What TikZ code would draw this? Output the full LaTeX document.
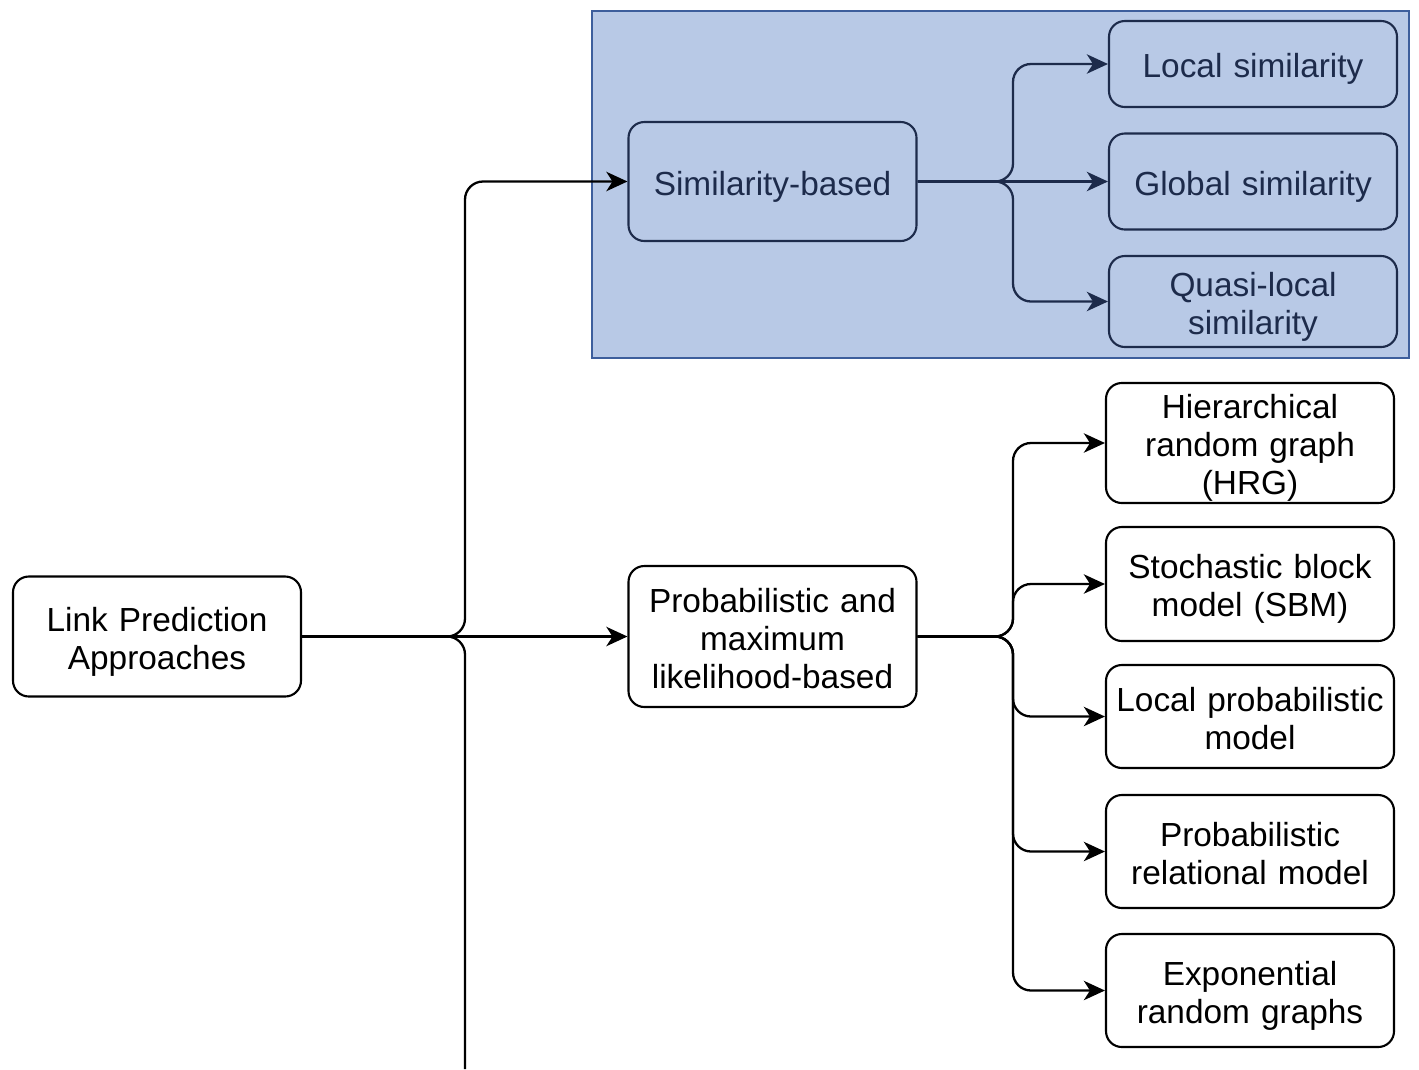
\documentclass[tikz,border=0pt]{standalone}
\usepackage{fontspec}
\setmainfont{Liberation Sans}
\usetikzlibrary{arrows.meta}
\definecolor{panelblue}{HTML}{B8C9E6}
\definecolor{paneledge}{HTML}{3D5E9C}
\definecolor{navyink}{HTML}{1D2B4B}

\begin{document}
\begin{tikzpicture}[
  >={Stealth[length=12pt,width=11pt,inset=3.5pt]},
  box/.style={
    draw,
    line width=1.2pt,
    rounded corners=9pt,
    align=center,
    text width=5.6cm,
    minimum width=5.76cm,
    inner sep=2pt,
    font=\fontsize{19}{21.6}\selectfont,
    execute at begin node={\noindent\rule{0pt}{20.3pt}},
    execute at end node={\rule[-4.8pt]{0pt}{4.8pt}}
  },
  simbox/.style={box,draw=navyink,text=navyink},
  arrow/.style={->,line width=1.3pt,rounded corners=0.36cm},
  simarrow/.style={arrow,navyink},
  panel/.style={
    draw=paneledge,
    fill=panelblue,
    line width=1.2pt,
    minimum width=16.34cm,
    minimum height=6.94cm,
    inner sep=0pt
  }
]
  \useasboundingbox (0,0) rectangle (28.38,-21.38);
  \node[panel] (simpanel) at (20.01,-3.69) {};

  \node[box,minimum height=2.4cm] (approaches) at (3.14,-12.73) {Link Prediction\\Approaches};
  \node[simbox,minimum height=2.38cm] (simbased) at (15.45,-3.63) {Similarity-based};
  \node[box,minimum height=2.82cm] (probml) at (15.45,-12.73) {Probabilistic and\\maximum\\likelihood-based};

  \node[simbox,minimum height=1.72cm] (locsim) at (25.06,-1.28) {Local similarity};
  \node[simbox,minimum height=1.92cm] (globsim) at (25.06,-3.63) {Global similarity};
  \node[simbox,minimum height=1.82cm] (quasisim) at (25.06,-6.03) {Quasi-local\\similarity};

  \node[box,minimum height=2.4cm,inner ysep=0pt] (hrg) at (25.0,-8.86) {Hierarchical\\random graph\\(HRG)};
  \node[box,minimum height=2.28cm] (sbm) at (25.0,-11.68) {Stochastic block\\model (SBM)};
  \node[box,minimum height=2.06cm] (localprob) at (25.0,-14.33) {Local probabilistic\\model};
  \node[box,minimum height=2.26cm] (relational) at (25.0,-17.03) {Probabilistic\\relational model};
  \node[box,minimum height=2.26cm] (exponential) at (25.0,-19.81) {Exponential\\random graphs};

  \coordinate (trunk) at (9.3,-12.73);
  \coordinate (cut) at (9.3,-21.38);
  \coordinate (simfork) at (20.26,-3.63);
  \coordinate (probfork) at (20.26,-12.73);

  \draw[arrow] (approaches.east) -- (trunk) |- (simbased.west);
  \draw[arrow] (approaches.east) -- (probml.west);
  \draw[arrow,-] (approaches.east) -- (trunk) -- (cut);

  \draw[simarrow] (simbased.east) -- (simfork) |- (locsim.west);
  \draw[simarrow] (simbased.east) -- (globsim.west);
  \draw[simarrow] (simbased.east) -- (simfork) |- (quasisim.west);

  \draw[arrow] (probml.east) -- (probfork) |- (hrg.west);
  \draw[arrow] (probml.east) -- (probfork) |- (sbm.west);
  \draw[arrow] (probml.east) -- (probfork) |- (localprob.west);
  \draw[arrow] (probml.east) -- (probfork) |- (relational.west);
  \draw[arrow] (probml.east) -- (probfork) |- (exponential.west);
\end{tikzpicture}
\end{document}
